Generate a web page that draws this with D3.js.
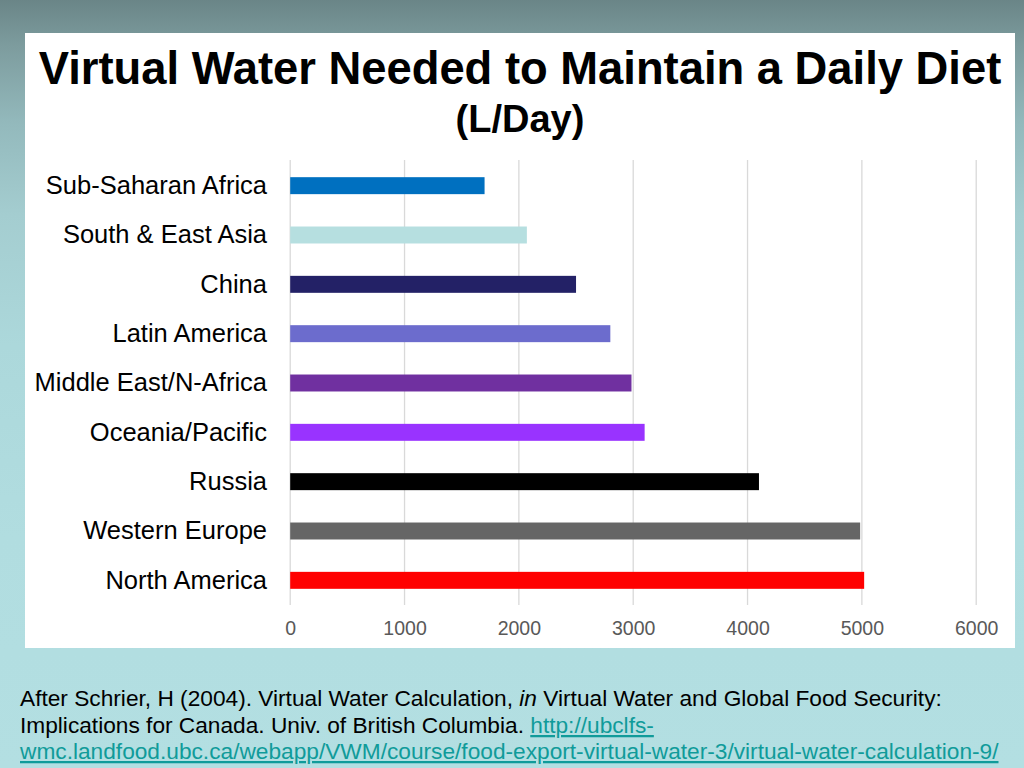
<!DOCTYPE html>
<html>
<head>
<meta charset="utf-8">
<script src="https://cdn.jsdelivr.net/npm/d3@7"></script>
<style>
  html, body { margin: 0; padding: 0; }
  body {
    width: 1024px; height: 768px; overflow: hidden;
    background: linear-gradient(to bottom, #6a8587 0%, #7d9c9e 6%, #93b9bc 16%, #a4cdd0 28%, #acd8db 45%, #b1dde0 70%, #b3dfe2 100%);
    font-family: "Liberation Sans", Arial, sans-serif;
  }
  svg { display: block; }
</style>
</head>
<body>
<svg id="chart" width="1024" height="768"></svg>
<script>
const categories = ["Sub-Saharan Africa", "South & East Asia", "China", "Latin America",
  "Middle East/N-Africa", "Oceania/Pacific", "Russia", "Western Europe", "North America"];
const values = [1700, 2070, 2500, 2800, 2985, 3100, 4100, 4985, 5020];
const barColors = ["#0070c0", "#b6dfe0", "#232166", "#6c6ccd", "#7030a0", "#9933ff", "#000000", "#666666", "#ff0000"];
const tickValues = [0, 1000, 2000, 3000, 4000, 5000, 6000];
const titleText = "Virtual Water Needed to Maintain a Daily Diet";
const subtitleText = "(L/Day)";
const footerLine1a = "After Schrier, H (2004). Virtual Water Calculation, ";
const footerItalic = "in";
const footerLine1b = " Virtual Water and Global Food Security:";
const footerLine2 = "Implications for Canada. Univ. of British Columbia. ";
const footerLink2 = "http://ubclfs-";
const footerLink3 = "wmc.landfood.ubc.ca/webapp/VWM/course/food-export-virtual-water-3/virtual-water-calculation-9/";

const svg = d3.select("#chart");

// white panel
svg.append("rect").attr("x", 25).attr("y", 33).attr("width", 990).attr("height", 615).attr("fill", "#ffffff");

// titles
svg.append("text").attr("transform", "translate(520,84) scale(0.965,1)").attr("text-anchor", "middle")
  .attr("font-size", 47).attr("font-weight", "bold").attr("fill", "#000")
  .text(titleText);
svg.append("text").attr("x", 520).attr("y", 132).attr("text-anchor", "middle")
  .attr("font-size", 38).attr("font-weight", "bold").attr("fill", "#000")
  .text(subtitleText);

const x = d3.scaleLinear().domain([0, 6000]).range([290.2, 976.2]);
const y = d3.scaleBand().domain(categories).range([161, 605]).paddingInner(0.656).paddingOuter(0.328);

// gridlines
svg.append("g").selectAll("line").data(tickValues).join("line")
  .attr("x1", d => x(d)).attr("x2", d => x(d))
  .attr("y1", 160).attr("y2", 605)
  .attr("stroke", "#d9d9d9").attr("stroke-width", 1.3);

// bars
svg.append("g").selectAll("rect").data(categories).join("rect")
  .attr("x", x(0))
  .attr("y", d => y(d))
  .attr("width", (d, i) => x(values[i]) - x(0))
  .attr("height", y.bandwidth())
  .attr("fill", (d, i) => barColors[i]);

// category labels
const yAxis = d3.axisLeft(y).tickSize(0).tickPadding(0);
const gy = svg.append("g").attr("transform", "translate(267,0)").call(yAxis);
gy.select(".domain").remove();
gy.selectAll("text").attr("font-size", 25.5).attr("fill", "#000")
  .attr("font-family", "'Liberation Sans', Arial, sans-serif");

// x tick labels
const xAxis = d3.axisBottom(x).tickValues(tickValues).tickSize(0).tickPadding(0).tickFormat(d3.format("d"));
const gx = svg.append("g").attr("transform", "translate(0,621)").call(xAxis);
gx.select(".domain").remove();
gx.selectAll("text").attr("font-size", 19.5).attr("fill", "#595959")
  .attr("font-family", "'Liberation Sans', Arial, sans-serif");

// footer
const f = svg.append("g").attr("font-size", 22.7).attr("fill", "#000");
const t1 = f.append("text").attr("x", 20).attr("y", 706);
t1.append("tspan").text(footerLine1a);
t1.append("tspan").attr("font-style", "italic").text(footerItalic);
t1.append("tspan").text(footerLine1b);
const t2 = f.append("text").attr("x", 20).attr("y", 733);
t2.append("tspan").text(footerLine2);
t2.append("tspan").attr("fill", "#109b9a").attr("text-decoration", "underline").text(footerLink2);
f.append("text").attr("x", 20).attr("y", 759).attr("fill", "#109b9a")
  .attr("text-decoration", "underline").text(footerLink3);
</script>
</body>
</html>
